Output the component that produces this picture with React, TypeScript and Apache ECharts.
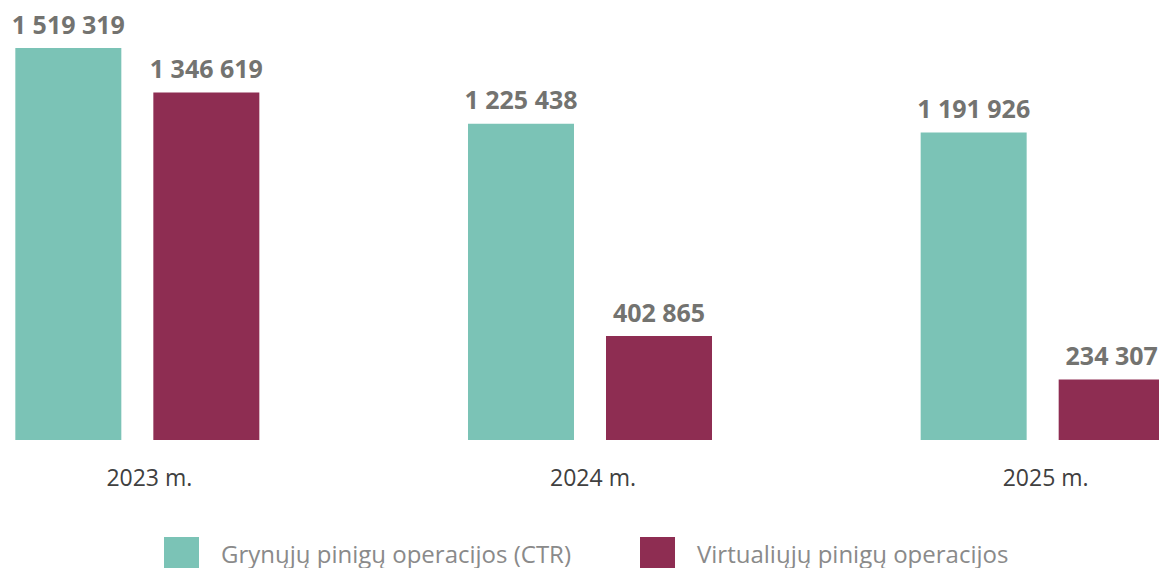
import React, { useEffect, useRef } from "react";
import * as echarts from "echarts";

const categories = ["2023 m.", "2024 m.", "2025 m."];
const seriesNames = ["Grynųjų pinigų operacijos (CTR)", "Virtualiųjų pinigų operacijos"];
const cashValues = [1519319, 1225438, 1191926];
const virtualValues = [1346619, 402865, 234307];
const colors = ["#7BC3B6", "#8E2D52"];

const fmt = (v: number) => String(v).replace(/\B(?=(\d{3})+(?!\d))/g, " ");

const SHIFT = 89;

export default function App() {
  const ref = useRef<HTMLDivElement>(null);
  useEffect(() => {
    if (!ref.current) return;
    const chart = echarts.init(ref.current, null, { renderer: "svg" });
    const label = {
      show: true,
      position: "top",
      distance: 12,
      color: "#737370",
      fontFamily: "Open Sans",
      fontWeight: "bold",
      fontSize: 25,
      formatter: (p: any) => fmt(p.value),
    };
    const catText = { color: "#404040", fontFamily: "Open Sans", fontSize: 23 };
    chart.setOption({
      animation: false,
      color: colors,
      legend: {
        left: 164 + SHIFT,
        top: 537,
        padding: 0,
        itemWidth: 35,
        itemHeight: 32,
        itemGap: 69,
        icon: "rect",
        textStyle: {
          color: "#8a8a8a",
          fontFamily: "Open Sans",
          fontSize: 24,
          padding: [0, 0, 10, 17],
        },
        data: seriesNames,
      },
      grid: { left: 0, right: 0, top: 48, bottom: 128, containLabel: false },
      xAxis: {
        type: "category",
        data: categories,
        axisLine: { show: false },
        axisTick: { show: false },
        axisLabel: {
          margin: 25,
          ...catText,
          formatter: (v: string, i: number) => (i === 0 ? `{a|${v}}` : `{b|${v}}`),
          rich: {
            a: { ...catText, padding: [0, 0, 0, 24] },
            b: { ...catText, padding: [0, 0, 0, 6] },
          },
        },
      },
      yAxis: {
        type: "value",
        min: 0,
        max: 1519319,
        show: false,
        splitLine: { show: false },
      },
      series: [
        {
          name: seriesNames[0],
          type: "bar",
          data: cashValues,
          barWidth: 106,
          barGap: "30.2%",
          label,
        },
        {
          name: seriesNames[1],
          type: "bar",
          data: virtualValues,
          barWidth: 106,
          barGap: "30.2%",
          label,
        },
      ],
    });
    return () => chart.dispose();
  }, []);
  return (
    <div
      style={{
        position: "absolute",
        left: 0,
        top: 0,
        width: 1159,
        height: 568,
        overflow: "hidden",
      }}
    >
      <div
        ref={ref}
        style={{ position: "absolute", left: -SHIFT, top: 0, width: 1358, height: 568 }}
      />
    </div>
  );
}
